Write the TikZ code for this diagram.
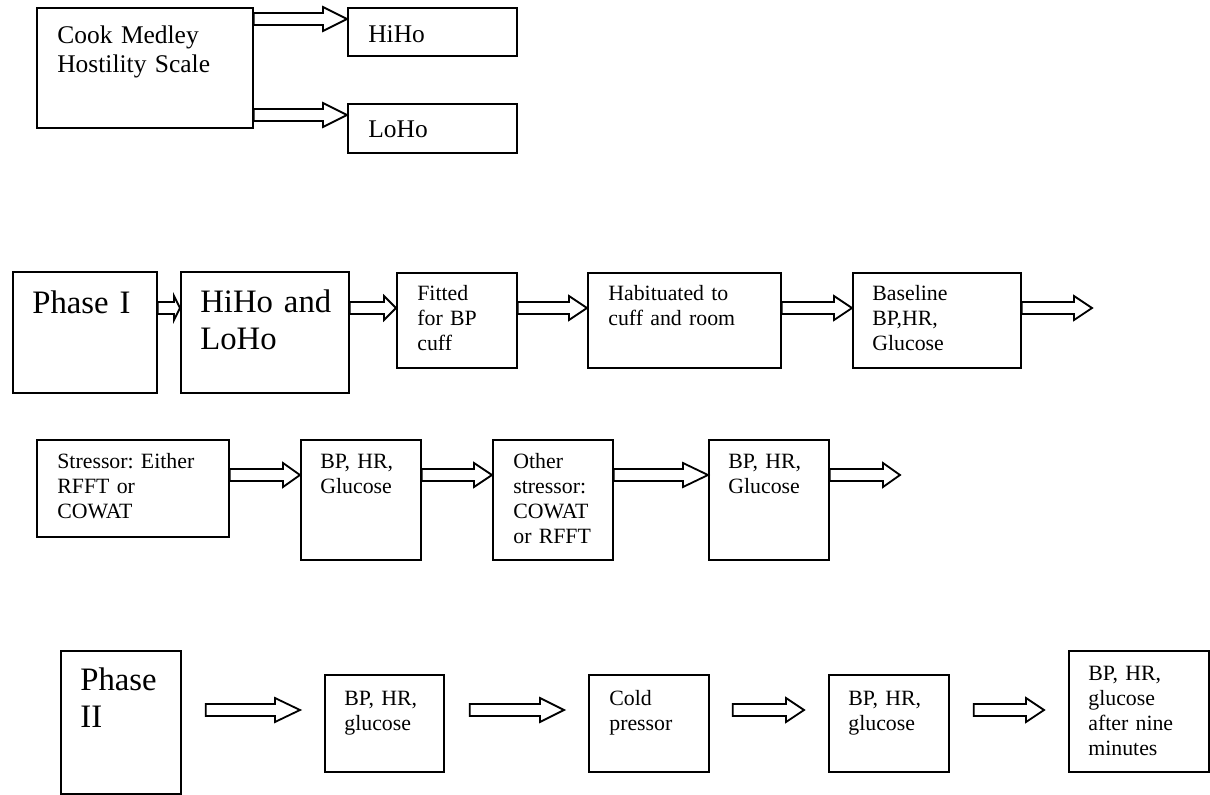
\documentclass[tikz,border=0pt]{standalone}
\usepackage{fontspec}
\setmainfont{Liberation Serif}
\usetikzlibrary{calc}
\frenchspacing

\begin{document}
\begin{tikzpicture}[
    x=0.55pt, y=-0.55pt,
    box/.style 2 args={draw, line width=1pt, rectangle, anchor=north west, inner sep=0pt,
      minimum width=#1*0.55pt, minimum height=#2*0.55pt},
    txt/.style={anchor=base west, align=left, text width=5cm, inner sep=0pt, font=\fontsize{12}{13.8}\selectfont},
    mid/.style={txt, font=\fontsize{14}{16}\selectfont},
    big/.style={txt, font=\fontsize{18}{20.7}\selectfont},
    harrow/.style={line width=1pt, line join=miter, to path={
      ($(\tikztostart)+(0,-6)$) -- ($(\tikztotarget)+(-#1,-6)$) -- ($(\tikztotarget)+(-#1,-12)$)
      -- (\tikztotarget) -- ($(\tikztotarget)+(-#1,12)$) -- ($(\tikztotarget)+(-#1,6)$)
      -- ($(\tikztostart)+(0,6)$) -- cycle}}
  ]
  \useasboundingbox (0,0) rectangle (1210,795);

  % Scale and the two groups
  \node[box={216}{120}] (cook) at (36,7) {};
  \node[mid] (cookT) at ([shift={(21,36)}]cook.north west) {Cook Medley\\Hostility Scale};
  \node[box={169}{48}] (hiho) at (347,7) {};
  \node[mid] (hihoT) at ([shift={(21,35)}]hiho.north west) {HiHo};
  \node[box={169}{49}] (loho) at (347,103) {};
  \node[mid] (lohoT) at ([shift={(21,34)}]loho.north west) {LoHo};
  \draw[harrow=24] (cook.east |- 0,19) to (hiho.west |- 0,19);
  \draw[harrow=24] (cook.east |- 0,115) to (loho.west |- 0,115);

  % Phase I
  \node[box={144}{121}] (ph1) at (12,271) {};
  \node[big] (ph1T) at ([shift={(20,42)}]ph1.north west) {Phase I};
  \node[box={168}{121}] (hilo) at (180,271) {};
  \node[big] (hiloT) at ([shift={(20,41)}]hilo.north west) {HiHo and\\LoHo};
  \node[box={120}{95}] (fit) at (396,272) {};
  \node[txt] (fitT) at ([shift={(21,28)}]fit.north west) {Fitted\\for BP\\cuff};
  \node[box={193}{95}] (hab) at (587,272) {};
  \node[txt] (habT) at ([shift={(21,28)}]hab.north west) {Habituated to\\cuff and room};
  \node[box={168}{95}] (base) at (852,272) {};
  \node[txt] (baseT) at ([shift={(20,28)}]base.north west) {Baseline\\BP,HR,\\Glucose};
  \coordinate (endA) at (1092,308);
  \draw[harrow=6] (ph1.east |- 0,308) to (hilo.west |- 0,308);
  \draw[harrow=12] (hilo.east |- 0,308) to (fit.west |- 0,308);
  \draw[harrow=18] (fit.east |- 0,308) to (hab.west |- 0,308);
  \draw[harrow=18] (hab.east |- 0,308) to (base.west |- 0,308);
  \draw[harrow=18] (base.east |- endA) to (endA);

  % Stressors
  \node[box={192}{97}] (str) at (36,439) {};
  \node[txt] (strT) at ([shift={(21,29)}]str.north west) {Stressor: Either\\RFFT or\\COWAT};
  \node[box={120}{120}] (bpa) at (300,439) {};
  \node[txt] (bpaT) at ([shift={(20,29)}]bpa.north west) {BP, HR,\\Glucose};
  \node[box={120}{120}] (oth) at (492,439) {};
  \node[txt] (othT) at ([shift={(21,29)}]oth.north west) {Other\\stressor:\\COWAT\\or RFFT};
  \node[box={120}{120}] (bpb) at (708,439) {};
  \node[txt] (bpbT) at ([shift={(20,29)}]bpb.north west) {BP, HR,\\Glucose};
  \coordinate (endB) at (900,475);
  \draw[harrow=17] (str.east |- endB) to (bpa.west |- endB);
  \draw[harrow=18] (bpa.east |- endB) to (oth.west |- endB);
  \draw[harrow=25] (oth.east |- endB) to (bpb.west |- endB);
  \draw[harrow=17] (bpb.east |- endB) to (endB);

  % Phase II
  \node[box={120}{143}] (ph2) at (60,650) {};
  \node[big] (ph2T) at ([shift={(20,40)}]ph2.north west) {Phase\\II};
  \node[box={119}{97}] (bpc) at (324,674) {};
  \node[txt] (bpcT) at ([shift={(20,31)}]bpc.north west) {BP, HR,\\glucose};
  \node[box={120}{97}] (cold) at (588,674) {};
  \node[txt] (coldT) at ([shift={(21,31)}]cold.north west) {Cold\\pressor};
  \node[box={120}{97}] (bpd) at (828,674) {};
  \node[txt] (bpdT) at ([shift={(20,31)}]bpd.north west) {BP, HR,\\glucose};
  \node[box={140}{121}] (nine) at (1068,650) {};
  \node[txt] (nineT) at ([shift={(20,30)}]nine.north west) {BP, HR,\\glucose\\after nine\\minutes};
  \draw[harrow=25] ([xshift=24*0.55pt]ph2.east |- 0,710) to ([xshift=-24*0.55pt]bpc.west |- 0,710);
  \draw[harrow=24] ([xshift=25*0.55pt]bpc.east |- 0,710) to ([xshift=-24*0.55pt]cold.west |- 0,710);
  \draw[harrow=18] ([xshift=23*0.55pt]cold.east |- 0,710) to ([xshift=-24*0.55pt]bpd.west |- 0,710);
  \draw[harrow=18] ([xshift=24*0.55pt]bpd.east |- 0,710) to ([xshift=-24*0.55pt]nine.west |- 0,710);

\end{tikzpicture}
\end{document}
